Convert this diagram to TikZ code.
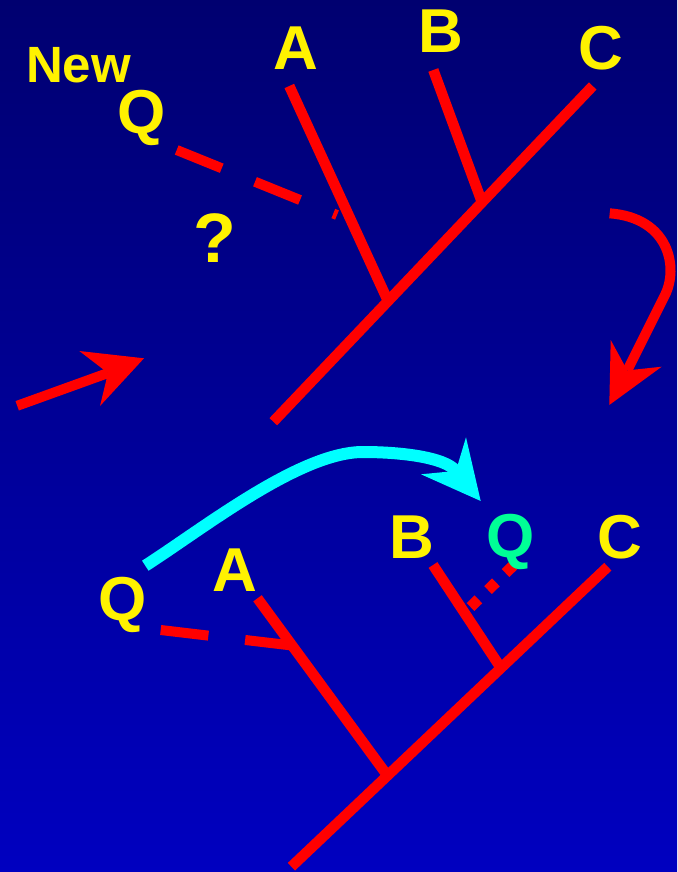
\documentclass[tikz,border=0pt]{standalone}
\usepackage{fontspec}
\setmainfont{Liberation Sans}
\definecolor{bgtop}{RGB}{0,0,112}
\definecolor{bgbot}{RGB}{0,0,192}
\definecolor{qgreen}{RGB}{0,255,150}
\definecolor{arrowcyan}{RGB}{0,255,255}
\begin{document}
\begin{tikzpicture}[x=1pt,y=-1pt,
  branch/.style={draw=red, line width=10.5pt},
  dashq/.style={draw=red, line width=10pt},
  lab/.style={text=yellow, font=\fontsize{62}{62}\selectfont\bfseries, anchor=base, inner sep=0pt},
  redshaft/.style={draw=red, line width=10pt},
  cyanshaft/.style={draw=arrowcyan, line width=12pt}]
\useasboundingbox (0,0) rectangle (677,872);
\shade[top color=bgtop, bottom color=bgbot] (0,0) rectangle (677,872);

% ---------- top tree ----------
\coordinate (tRoot) at (273.3,421.7);
\coordinate (tCend) at (592.7,86);
\coordinate (tAend) at (289.3,86);
\coordinate (tAjoin) at (388,301);
\coordinate (tBend) at (433.3,70);
\coordinate (tBjoin) at (482,202.3);
\coordinate (tQstart) at (176.7,150);
\coordinate (tQend) at (337,215);
\draw[branch] (tRoot) -- (tCend);
\draw[branch] (tAend) -- (tAjoin);
\draw[branch] (tBend) -- (tBjoin);
\draw[dashq, dash pattern=on 48.6pt off 35.9pt] (tQstart) -- (tQend);

\node[lab, font=\fontsize{51}{51}\selectfont\bfseries] (new) at (78.5,83) {New};
\node[lab] (tQ) at (142,134) {Q};
\node[lab] (tA) at (296,70) {A};
\node[lab] (tB) at (441,53) {B};
\node[lab] (tC) at (601,70) {C};
\node[lab, font=\fontsize{70}{70}\selectfont\bfseries] (quest) at (215,262) {?};

% ---------- left red arrow ----------
\coordinate (la0) at (17.2,405.8);
\coordinate (latip) at (144,358.3);
\coordinate (law1) at (79.3,351);
\coordinate (lanotch) at (108,373);
\coordinate (law2) at (100,406);
\draw[redshaft] (la0) -- (lanotch);
\fill[red] (latip) -- (law1) -- (lanotch) -- (law2) -- cycle;

% ---------- right curved red arrow ----------
\coordinate (ra0) at (609.7,213.3);
\coordinate (ramid) at (665,295);
\coordinate (ratip) at (609.3,405);
\coordinate (raw1) at (610.7,340);
\coordinate (ranotch) at (627.3,370.4);
\coordinate (raw2) at (661.7,366.7);
\draw[redshaft] (ra0) .. controls (670,218) and (678.4,268.2) .. (ramid) -- (ranotch);
\fill[red] (ratip) -- (raw1) -- (ranotch) -- (raw2) -- cycle;

% ---------- cyan arrow ----------
\coordinate (ca0) at (145.3,565.7);
\coordinate (catop) at (363,452);
\coordinate (catip) at (480.7,501);
\coordinate (caw1) at (466,437.3);
\coordinate (canotch) at (455.9,470.9);
\coordinate (caw2) at (421,474.3);
\draw[cyanshaft] (ca0) .. controls (204,528) and (300,452) .. (catop)
   .. controls (400,452) and (444.5,457) .. (canotch);
\fill[arrowcyan] (catip) -- (caw1) -- (canotch) -- (caw2) -- cycle;

% ---------- bottom tree ----------
\coordinate (bRoot) at (291.4,866.7);
\coordinate (bCend) at (607.8,566.7);
\coordinate (bAend) at (257.5,598.3);
\coordinate (bAjoin) at (387,775);
\coordinate (bBend) at (433,565);
\coordinate (bBjoin) at (500.9,668);
\coordinate (bQstart) at (160.7,630);
\coordinate (bQjoin) at (292,645.5);
\coordinate (dot0) at (470.5,607);
\coordinate (dot1) at (513.4,565.4);
\draw[branch] (bRoot) -- (bCend);
\draw[branch] (bAend) -- (bAjoin);
\draw[branch] (bBend) -- (bBjoin);
\draw[dashq, dash pattern=on 48pt off 37pt] (bQstart) -- (bQjoin);
\draw[draw=red, line width=11pt, dash pattern=on 11pt off 13.4pt] (dot0) -- (dot1);

\node[lab] (bQ) at (123,620) {Q};
\node[lab] (bA) at (235,591) {A};
\node[lab] (bB) at (412,558) {B};
\node[lab, text=qgreen] (bQg) at (511,557) {Q};
\node[lab] (bC) at (620,558) {C};
\end{tikzpicture}
\end{document}
